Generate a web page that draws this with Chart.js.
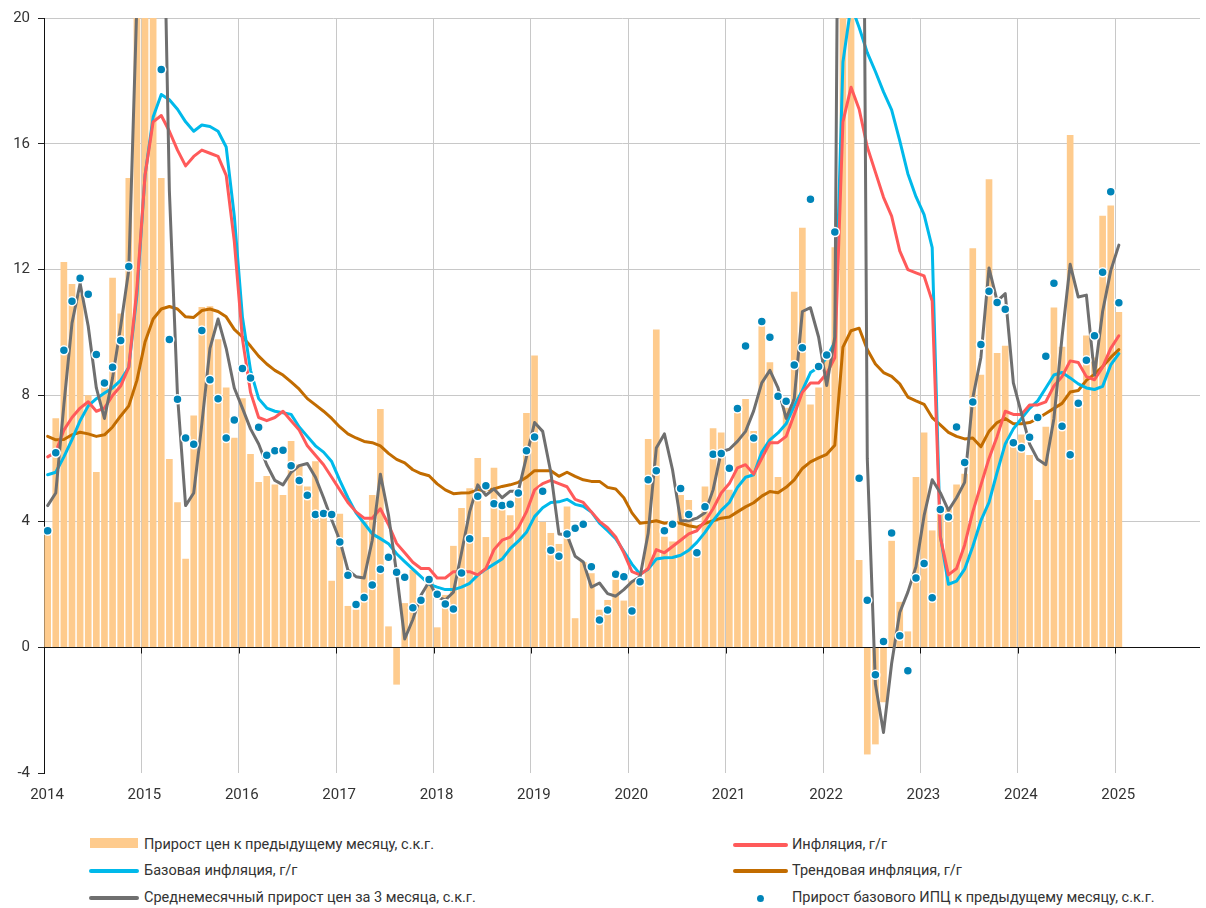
<!DOCTYPE html>
<html><head><meta charset="utf-8">
<script src="https://cdn.jsdelivr.net/npm/chart.js@4.4.1/dist/chart.umd.min.js"></script>
<style>
html,body{margin:0;padding:0;background:#fff;width:1206px;height:908px;overflow:hidden;font-family:Roboto,'Noto Sans',sans-serif;}
#wrap{position:absolute;left:0;top:0;width:1206px;height:810px;}
.lt{position:absolute;font-size:14.5px;color:#333;white-space:nowrap;line-height:18px;}
.sw{position:absolute;}
</style></head><body>
<div id="wrap"><canvas id="c" width="1206" height="810"></canvas></div>
<div id="legend"></div>
<script>
// Monthly data, Jan 2014 .. Jan 2025
const yearLabels = ['2014','2015','2016','2017','2018','2019','2020','2021','2022','2023','2024','2025'];

// Прирост цен к предыдущему месяцу, с.к.г. (bars)
const momSaar = [
 3.7, 7.27, 12.23, 11.53, 11.2, 8.0, 5.56, 8.3, 11.73, 10.6, 14.9, 36,
 46, 22.6, 14.9, 5.97, 4.6, 2.8, 7.35, 10.8, 10.83, 9.78, 8.24, 6.65,
 7.9, 6.13, 5.24, 5.43, 5.16, 4.83, 6.54, 5.8, 5.1, 5.9, 4.1, 2.1,
 4.23, 1.3, 1.18, 3.98, 4.83, 7.56, 0.65, -1.18, 1.39, 2.45, 1.49, 2.24,
 0.62, 1.65, 3.21, 4.41, 5.04, 6.0, 3.49, 5.69, 4.35, 4.18, 4.83, 7.43,
 9.26, 3.97, 3.62, 3.27, 4.46, 0.91, 2.7, 2.34, 1.18, 1.49, 2.13, 1.47,
 2.1, 2.1, 6.61, 10.09, 3.5, 3.35, 4.83, 4.67, 3.05, 5.1, 6.95, 6.81,
 4.99, 7.43, 7.88, 6.86, 10.19, 9.05, 5.4, 7.6, 11.29, 13.32, 7.7, 8.24,
 9.2, 12.7, 120, 22, 2.76, -3.4, -3.08, -1.74, 3.37, 1.43, 0.49, 5.4,
 6.81, 3.7, 4.3, 4.4, 5.16, 5.5, 12.67, 8.65, 14.86, 9.34, 9.57, 6.54,
 6.75, 6.1, 4.67, 7.0, 10.79, 9.54, 16.27, 7.67, 9.9, 9.2, 13.7, 14.03,
 10.64
];

// Прирост базового ИПЦ к предыдущему месяцу, с.к.г. (dots)
const coreMoM = [
 3.7, 6.18, 9.44, 11.0, 11.73, 11.22, 9.3, 8.4, 8.9, 9.75, 12.1, 30,
 40, 27, 18.36, 9.78, 7.88, 6.65, 6.45, 10.07, 8.5, 7.9, 6.65, 7.22,
 8.86, 8.56, 6.99, 6.1, 6.24, 6.26, 5.77, 5.3, 4.83, 4.22, 4.25, 4.22,
 3.34, 2.29, 1.36, 1.58, 1.98, 2.48, 2.86, 2.38, 2.22, 1.25, 1.49, 2.15,
 1.68, 1.37, 1.21, 2.36, 3.45, 4.8, 5.13, 4.56, 4.5, 4.54, 4.9, 6.24,
 6.68, 4.96, 3.08, 2.89, 3.6, 3.78, 3.91, 2.56, 0.86, 1.18, 2.32, 2.24,
 1.15, 2.08, 5.32, 5.61, 3.7, 3.91, 5.04, 4.22, 3.0, 4.46, 6.13, 6.16,
 5.69, 7.59, 9.57, 6.65, 10.35, 9.85, 7.98, 7.82, 8.97, 9.52, 14.24, 8.92,
 9.29, 13.2, 45, 24, 5.37, 1.49, -0.88, 0.18, 3.63, 0.36, -0.75, 2.2,
 2.66, 1.57, 4.38, 4.14, 7.0, 5.87, 7.79, 9.62, 11.31, 10.96, 10.74, 6.5,
 6.34, 6.67, 7.3, 9.25, 11.57, 7.02, 6.12, 7.75, 9.12, 9.9, 11.92, 14.48,
 10.95
];

// Среднемесячный прирост цен за 3 месяца, с.к.г.
const avg3m = [
 4.5, 4.9, 7.7, 10.3, 11.56, 10.2, 8.24, 7.27, 8.56, 10.2, 12.0, 20.5,
 34.9, 34.9, 27.8, 14.5, 8.0, 4.5, 4.9, 7.1, 9.5, 10.43, 9.5, 8.24,
 7.6, 6.94, 6.46, 5.8, 5.3, 5.16, 5.56, 5.77, 5.84, 5.4, 4.75, 4.05,
 3.4, 2.45, 2.24, 2.2, 3.4, 5.5, 4.2, 2.35, 0.26, 0.88, 1.65, 2.08,
 1.6, 1.5, 1.75, 3.0, 4.3, 5.16, 4.83, 5.03, 4.75, 4.96, 4.96, 6.05,
 7.14, 6.86, 5.56, 3.6, 3.57, 2.89, 2.71, 1.91, 2.04, 1.7, 1.62, 1.83,
 2.08, 2.24, 3.62, 6.33, 6.78, 5.64, 4.02, 4.02, 4.1, 4.27, 5.0, 6.21,
 6.29, 6.54, 6.86, 7.51, 8.4, 8.8, 8.24, 7.27, 7.9, 10.67, 10.79, 9.86,
 8.32, 9.86, 47, 51, 48, 6.0, -1.17, -2.71, -0.52, 1.1, 1.75, 2.56,
 4.18, 5.32, 4.91, 4.35, 4.75, 5.24, 7.92, 9.21, 12.05, 11.0, 11.24, 8.4,
 7.43, 6.46, 5.97, 5.8, 7.27, 9.86, 12.17, 11.13, 11.19, 8.65, 10.67, 11.97,
 12.78
];

// Инфляция, г/г
const inflYoY = [
 6.05, 6.2, 6.9, 7.3, 7.6, 7.8, 7.5, 7.6, 8.0, 8.3, 8.9, 11.4,
 15.0, 16.7, 16.9, 16.4, 15.8, 15.3, 15.6, 15.8, 15.7, 15.6, 15.0, 12.9,
 9.8, 8.1, 7.3, 7.2, 7.3, 7.5, 7.2, 6.9, 6.4, 6.1, 5.8, 5.4,
 5.0, 4.6, 4.3, 4.1, 4.1, 4.4, 3.9, 3.3, 3.0, 2.7, 2.5, 2.5,
 2.2, 2.2, 2.4, 2.4, 2.4, 2.3, 2.5, 3.1, 3.4, 3.5, 3.8, 4.3,
 5.0, 5.2, 5.3, 5.2, 5.1, 4.7, 4.6, 4.3, 4.0, 3.8, 3.5, 3.0,
 2.4, 2.3, 2.5, 3.1, 3.0, 3.2, 3.4, 3.6, 3.7, 4.0, 4.4, 4.9,
 5.2, 5.7, 5.8, 5.5, 6.0, 6.5, 6.5, 6.7, 7.4, 8.1, 8.4, 8.4,
 8.7, 9.2, 16.7, 17.8, 17.1, 15.9, 15.1, 14.3, 13.7, 12.6, 12.0, 11.9,
 11.8, 11.0, 3.5, 2.3, 2.5, 3.25, 4.3, 5.15, 6.0, 6.7, 7.5, 7.4,
 7.4, 7.7, 7.7, 7.8, 8.3, 8.6, 9.1, 9.05, 8.6, 8.5, 8.9, 9.5,
 9.9
];

// Базовая инфляция, г/г
const coreYoY = [
 5.48, 5.56, 6.05, 6.6, 7.2, 7.67, 7.9, 8.08, 8.24, 8.48, 8.9, 11.2,
 15.0, 16.85, 17.57, 17.4, 17.1, 16.7, 16.4, 16.6, 16.55, 16.4, 15.9, 13.7,
 10.5, 8.8, 7.9, 7.6, 7.5, 7.45, 7.4, 7.0, 6.7, 6.4, 6.2, 5.9,
 5.3, 4.75, 4.27, 3.94, 3.6, 3.45, 3.29, 2.97, 2.72, 2.48, 2.24, 2.0,
 1.91, 1.83, 1.83, 1.91, 2.03, 2.29, 2.48, 2.64, 2.8, 3.13, 3.37, 3.65,
 4.15, 4.43, 4.6, 4.62, 4.7, 4.54, 4.48, 4.3, 3.94, 3.7, 3.45, 3.05,
 2.64, 2.32, 2.48, 2.8, 2.84, 2.85, 2.92, 3.08, 3.33, 3.65, 4.02, 4.35,
 4.6, 5.08, 5.4, 5.48, 6.2, 6.59, 6.81, 7.1, 7.67, 8.16, 8.73, 8.9,
 9.2, 9.7, 18.6, 20.4, 19.7, 18.9, 18.3, 17.65, 17.08, 16.1, 15.05, 14.32,
 13.75, 12.7, 3.54, 2.0, 2.1, 2.48, 3.2, 4.02, 4.6, 5.56, 6.46, 6.94,
 7.27, 7.59, 7.83, 8.24, 8.65, 8.73, 8.56, 8.37, 8.24, 8.19, 8.29, 8.97,
 9.33
];

// Трендовая инфляция, г/г
const trendYoY = [
 6.7, 6.59, 6.6, 6.75, 6.83, 6.78, 6.7, 6.75, 7.0, 7.35, 7.67, 8.48,
 9.7, 10.43, 10.75, 10.83, 10.75, 10.5, 10.48, 10.7, 10.75, 10.67, 10.5, 10.1,
 9.86, 9.57, 9.25, 9.0, 8.8, 8.65, 8.43, 8.2, 7.9, 7.7, 7.5, 7.27,
 7.0, 6.78, 6.65, 6.54, 6.5, 6.4, 6.16, 5.97, 5.86, 5.64, 5.52, 5.45,
 5.19, 5.0, 4.88, 4.9, 4.91, 5.0, 5.0, 5.03, 5.11, 5.16, 5.24, 5.4,
 5.61, 5.61, 5.61, 5.43, 5.56, 5.43, 5.32, 5.27, 5.27, 5.08, 5.03, 4.75,
 4.27, 3.94, 3.97, 4.02, 3.94, 3.97, 3.94, 3.86, 3.81, 3.94, 4.02, 4.1,
 4.14, 4.3, 4.46, 4.59, 4.8, 4.95, 4.91, 5.08, 5.32, 5.68, 5.89, 6.02,
 6.13, 6.42, 9.54, 10.06, 10.14, 9.46, 9.0, 8.73, 8.61, 8.37, 7.95, 7.83,
 7.72, 7.3, 7.07, 6.83, 6.7, 6.62, 6.65, 6.37, 6.86, 7.14, 7.27, 7.1,
 7.1, 7.14, 7.27, 7.43, 7.59, 7.75, 8.11, 8.16, 8.48, 8.68, 8.92, 9.21,
 9.46
];

const yTicks = [-4, 0, 4, 8, 12, 16, 20];

const C = {
  bar: '#FECB8D', red: '#FF5A5A', blue: '#00B9EA', brown: '#C26C00', gray: '#6F6F6F', dot: '#0084B8'
};

const yearTicks = yearLabels.map((_, i) => i * 12);
const pts = arr => arr.map((v, i) => ({ x: i + 0.45, y: v }));

Chart.defaults.font.family = "Roboto, 'Noto Sans', sans-serif";
Chart.defaults.color = '#333';

const zeroAxis = {
  id: 'zeroAxis',
  afterDatasetDraw(chart, args) {
    if (args.meta.type !== 'bar') return;
    const { ctx, chartArea, scales } = chart;
    const y0 = Math.round(scales.y.getPixelForValue(0)) + 0.5;
    ctx.save();
    ctx.strokeStyle = '#111';
    ctx.lineWidth = 1;
    ctx.beginPath();
    ctx.moveTo(chartArea.left, y0);
    ctx.lineTo(chartArea.right, y0);
    yearTicks.forEach(v => {
      const px = Math.round(scales.x.getPixelForValue(v)) + 0.5;
      ctx.moveTo(px, y0);
      ctx.lineTo(px, y0 + 6);
    });
    ctx.stroke();
    ctx.restore();
  }
};

const lineDs = (data, color, order) => ({
  type: 'line', data: pts(data), borderColor: color, borderWidth: 3, pointRadius: 0,
  tension: 0, fill: false, order, clip: 0, borderJoinStyle: 'round', borderCapStyle: 'round'
});

new Chart(document.getElementById('c'), {
  type: 'line',
  data: {
    datasets: [
      { type: 'scatter', data: pts(coreMoM), backgroundColor: C.dot, borderColor: '#fff',
        borderWidth: 1.5, pointRadius: 4.5, order: 0, clip: 0 },
      lineDs(avg3m, C.gray, 1),
      lineDs(inflYoY, C.red, 2),
      lineDs(coreYoY, C.blue, 3),
      lineDs(trendYoY, C.brown, 4),
      { type: 'bar', data: pts(momSaar), backgroundColor: C.bar, barThickness: 6, order: 5, clip: 0 }
    ]
  },
  options: {
    responsive: false, animation: false, devicePixelRatio: 1,
    layout: { padding: { top: 18, right: 0, left: 0, bottom: 0 } },
    plugins: { legend: { display: false }, tooltip: { enabled: false } },
    scales: {
      x: {
        type: 'linear', min: 0, max: 142.45, offset: false,
        grid: { color: '#c8c8c8', lineWidth: 1, drawTicks: false, offset: false },
        border: { display: false },
        afterBuildTicks: s => { s.ticks = yearTicks.map(v => ({ value: v })); },
        afterFit: s => { s.height = 37; },
        ticks: { autoSkip: false, maxRotation: 0, padding: 13, labelOffset: 3,
          font: { size: 15 }, color: '#333',
          callback: (v, i) => yearLabels[i] }
      },
      y: {
        min: -4, max: 20,
        afterBuildTicks: s => { s.ticks = yTicks.map(v => ({ value: v })); },
        afterFit: s => { s.width = 44; },
        grid: {
          color: c => (c.tick && (c.tick.value === 0 || c.tick.value === -4)) ? 'rgba(0,0,0,0)' : '#c8c8c8',
          tickColor: '#222', tickLength: 6, lineWidth: 1
        },
        border: { display: true, color: '#111', width: 1 },
        ticks: { padding: 8, font: { size: 15 }, color: '#333', callback: v => String(v) }
      }
    }
  },
  plugins: [zeroAxis]
});

// HTML legend
const legendItems = [
  { label: 'Прирост цен к предыдущему месяцу, с.к.г.', kind: 'bar', color: C.bar, col: 0, row: 0 },
  { label: 'Базовая инфляция, г/г', kind: 'line', color: C.blue, col: 0, row: 1 },
  { label: 'Среднемесячный прирост цен за 3 месяца, с.к.г.', kind: 'line', color: C.gray, col: 0, row: 2 },
  { label: 'Инфляция, г/г', kind: 'line', color: C.red, col: 1, row: 0 },
  { label: 'Трендовая инфляция, г/г', kind: 'line', color: C.brown, col: 1, row: 1 },
  { label: 'Прирост базового ИПЦ к предыдущему месяцу, с.к.г.', kind: 'dot', color: C.dot, col: 1, row: 2 }
];
const rowY = [845, 871, 898];
const colSw = [{ l: 89, w: 50, t: 144 }, { l: 733, w: 55, t: 792 }];
const lg = document.getElementById('legend');
legendItems.forEach(it => {
  const cy = rowY[it.row], cs = colSw[it.col];
  const sw = document.createElement('div');
  sw.className = 'sw';
  if (it.kind === 'bar') {
    Object.assign(sw.style, { left: cs.l + 1 + 'px', top: (cy - 7) + 'px', width: (cs.w - 2) + 'px', height: '10px', background: it.color });
  } else if (it.kind === 'line') {
    Object.assign(sw.style, { left: cs.l + 'px', top: (cy - 2) + 'px', width: cs.w + 'px', height: '4px', background: it.color, borderRadius: '2px' });
  } else {
    Object.assign(sw.style, { left: (cs.l + 24) + 'px', top: (cy - 3) + 'px', width: '7px', height: '7px', background: it.color, borderRadius: '50%' });
  }
  lg.appendChild(sw);
  const tx = document.createElement('div');
  tx.className = 'lt';
  tx.style.left = cs.t + 'px';
  tx.style.top = (cy - 9) + 'px';
  tx.textContent = it.label;
  lg.appendChild(tx);
});
</script>
</body></html>
